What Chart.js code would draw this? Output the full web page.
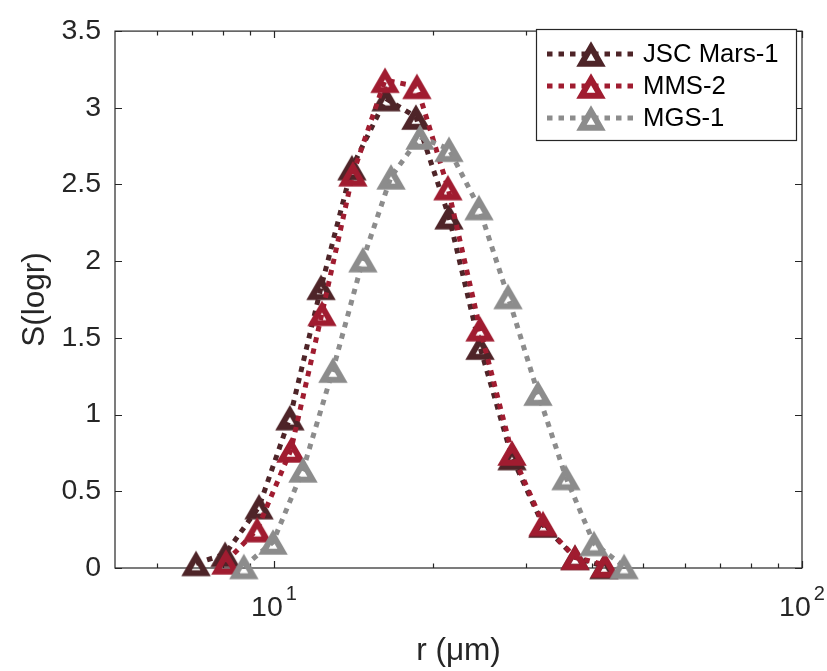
<!DOCTYPE html>
<html><head><meta charset="utf-8">
<script src="https://cdn.jsdelivr.net/npm/chart.js@4.4.1/dist/chart.umd.min.js"></script>
<style>html,body{margin:0;padding:0;background:#fff;}#wrap{width:827px;height:671px;position:relative;}</style>
</head><body><div id="wrap"><canvas id="c" width="827" height="671"></canvas></div>
<script>
// ---- data ----
const seriesNames = ['JSC Mars-1', 'MMS-2', 'MGS-1'];
const jscR = [7.12, 8.08, 9.37, 10.72, 12.28, 14.05, 16.30, 18.57, 21.45, 24.56, 28.24, 32.32, 37.16, 42.17];
const jscS = [0.03, 0.09, 0.40, 0.98, 1.83, 2.61, 3.06, 2.94, 2.29, 1.44, 0.72, 0.28, 0.07, 0.01];
const mmsR = [8.11, 9.29, 10.77, 12.33, 14.11, 16.23, 18.65, 21.35, 24.56, 28.24, 32.32, 37.16, 42.35];
const mmsS = [0.04, 0.25, 0.77, 1.66, 2.57, 3.18, 3.14, 2.48, 1.56, 0.75, 0.29, 0.07, 0.02];
const mgsR = [8.77, 9.96, 11.35, 12.93, 14.74, 16.66, 18.91, 21.45, 24.45, 27.75, 31.62, 35.73, 40.37, 46.03];
const mgsS = [0.01, 0.17, 0.64, 1.29, 2.01, 2.55, 2.81, 2.73, 2.35, 1.77, 1.14, 0.59, 0.16, 0.01];
const yTicks = [0, 0.5, 1, 1.5, 2, 2.5, 3, 3.5];
const yTickLabels = ['0', '0.5', '1', '1.5', '2', '2.5', '3', '3.5'];
const xMajorTicks = [10, 100];
const xMinorTicks = [6, 7, 8, 9, 20, 30, 40, 50, 60, 70, 80, 90];
const xLabel = 'r (\u03bcm)';
const yLabel = 'S(logr)';

// ---- styles ----
const colors = ['#4e2428', '#a01c30', '#8c8c8c'];
const FONT = '"Liberation Sans", Arial, Helvetica, sans-serif';
const AXIS_COLOR = '#262626';

function makeTriangle(color) {
  const cv = document.createElement('canvas');
  cv.width = 40; cv.height = 40;
  const g = cv.getContext('2d');
  const R = 11, bw = 6;
  const cx = 20, cy = 20 + 4.25;
  g.beginPath();
  g.moveTo(cx, cy - R);
  g.lineTo(cx + R * Math.sin(2 * Math.PI / 3), cy - R * Math.cos(2 * Math.PI / 3));
  g.lineTo(cx + R * Math.sin(4 * Math.PI / 3), cy - R * Math.cos(4 * Math.PI / 3));
  g.closePath();
  g.lineJoin = 'miter';
  g.miterLimit = 10;
  g.lineWidth = bw;
  g.strokeStyle = color;
  g.stroke();
  return cv;
}
const markers = colors.map(makeTriangle);

function pts(xs, ys) { return xs.map((x, i) => ({ x: x, y: ys[i] })); }

function ds(i, xs, ys, order) {
  return {
    label: seriesNames[i],
    data: pts(xs, ys),
    borderColor: colors[i],
    backgroundColor: colors[i],
    borderWidth: 5,
    borderDash: [5.5, 6],
    borderCapStyle: 'butt',
    pointStyle: markers[i],
    pointRadius: 12,
    pointHoverRadius: 12,
    tension: 0,
    clip: false,
    order: order
  };
}

const axesPlugin = {
  id: 'matlabAxes',
  beforeDatasetsDraw(chart) {
    const { ctx, chartArea: a, scales } = chart;
    const xs = scales.x, ys = scales.y;
    ctx.save();
    ctx.strokeStyle = AXIS_COLOR;
    ctx.lineWidth = 1.2;
    ctx.strokeRect(a.left, a.top, a.right - a.left, a.bottom - a.top);
    ctx.beginPath();
    yTicks.forEach(v => {
      const y = Math.round(ys.getPixelForValue(v)) + 0.5;
      ctx.moveTo(a.left, y); ctx.lineTo(a.left + 7, y);
      ctx.moveTo(a.right, y); ctx.lineTo(a.right - 7, y);
    });
    xMajorTicks.forEach(v => {
      const x = Math.round(xs.getPixelForValue(v)) + 0.5;
      ctx.moveTo(x, a.bottom); ctx.lineTo(x, a.bottom - 7);
      ctx.moveTo(x, a.top); ctx.lineTo(x, a.top + 7);
    });
    xMinorTicks.forEach(v => {
      const x = Math.round(xs.getPixelForValue(v)) + 0.5;
      ctx.moveTo(x, a.bottom); ctx.lineTo(x, a.bottom - 4.5);
      ctx.moveTo(x, a.top); ctx.lineTo(x, a.top + 4.5);
    });
    ctx.stroke();
    ctx.restore();
  },
  afterDatasetsDraw(chart) {
    const { ctx } = chart;
    // legend box
    const bx = 536, by = 29, bw = 260, bh = 111;
    ctx.save();
    ctx.fillStyle = '#ffffff';
    ctx.fillRect(bx, by, bw, bh);
    ctx.strokeStyle = AXIS_COLOR;
    ctx.lineWidth = 1.2;
    ctx.strokeRect(bx + 0.5, by + 0.5, bw, bh);
    chart.data.datasets.forEach((d, i) => {
      const y = 54 + i * 32;
      ctx.save();
      ctx.strokeStyle = d.borderColor;
      ctx.lineWidth = 5;
      ctx.setLineDash([5.5, 6]);
      ctx.beginPath();
      ctx.moveTo(547, y); ctx.lineTo(634, y);
      ctx.stroke();
      ctx.restore();
      const m = d.pointStyle;
      ctx.drawImage(m, 591 - m.width / 2, y - m.height / 2);
      ctx.fillStyle = '#000000';
      ctx.font = '25.7px ' + FONT;
      ctx.textAlign = 'left';
      ctx.textBaseline = 'middle';
      ctx.fillText(d.label, 643, y + 1);
    });
    ctx.restore();
  },
  afterDraw(chart) {
    const { ctx, scales } = chart;
    const xs = scales.x;
    ctx.save();
    ctx.fillStyle = AXIS_COLOR;
    ctx.textBaseline = 'alphabetic';
    ctx.textAlign = 'left';
    xMajorTicks.forEach(v => {
      const px = xs.getPixelForValue(v);
      const base = '10';
      const sup = String(Math.round(Math.log10(v)));
      ctx.font = '28.5px ' + FONT;
      const w1 = ctx.measureText(base).width;
      ctx.font = '20px ' + FONT;
      const w2 = ctx.measureText(sup).width;
      const start = px - (w1 + w2 + 3) / 2;
      ctx.font = '28.5px ' + FONT;
      ctx.fillText(base, start, 616);
      ctx.font = '20px ' + FONT;
      ctx.fillText(sup, start + w1 + 3, 600);
    });
    ctx.restore();
  }
};

new Chart(document.getElementById('c'), {
  type: 'line',
  data: {
    datasets: [
      ds(0, jscR, jscS, 2),
      ds(1, mmsR, mmsS, 1),
      ds(2, mgsR, mgsS, 0)
    ]
  },
  options: {
    responsive: false,
    animation: false,
    layout: { padding: { top: 17, right: 25, left: 0, bottom: 0 } },
    plugins: { legend: { display: false }, tooltip: { enabled: false } },
    scales: {
      x: {
        type: 'logarithmic',
        min: 5, max: 100,
        grid: { display: false, drawTicks: false },
        border: { display: false },
        ticks: { display: false },
        afterBuildTicks: s => { s.ticks = xMajorTicks.map(v => ({ value: v })); },
        afterFit: s => { s.height = 103; },
        title: { display: true, text: xLabel, color: AXIS_COLOR, font: { family: FONT, size: 31.5 }, padding: 1 }
      },
      y: {
        type: 'linear',
        min: 0, max: 3.5,
        grid: { display: false, drawTicks: false },
        border: { display: false },
        afterBuildTicks: s => { s.ticks = yTicks.map(v => ({ value: v })); },
        ticks: {
          color: AXIS_COLOR, font: { family: FONT, size: 28.5 }, padding: 14,
          callback: (v, idx) => yTickLabels[yTicks.indexOf(v)] ?? String(v)
        },
        afterFit: s => { s.width = 115; },
        title: { display: true, text: yLabel, color: AXIS_COLOR, font: { family: FONT, size: 31.5 }, padding: 16 }
      }
    }
  },
  plugins: [axesPlugin]
});
</script>
</body></html>
